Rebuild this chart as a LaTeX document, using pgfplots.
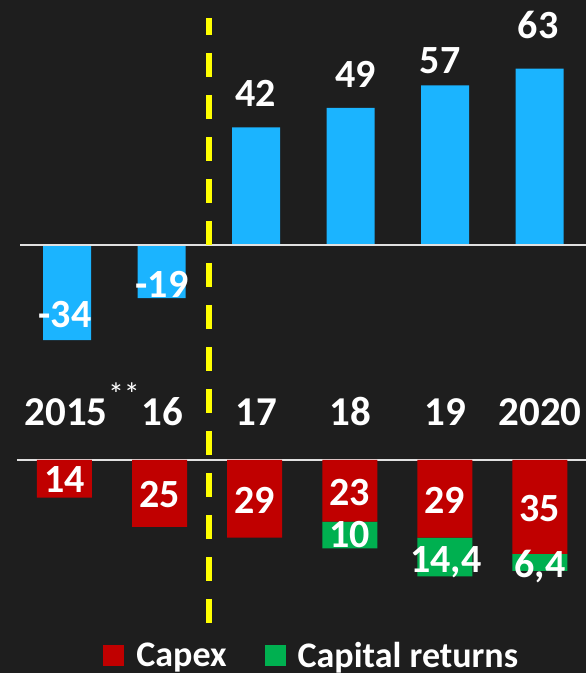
\documentclass[border=0pt]{standalone}
\usepackage{fontspec}
\setmainfont{Carlito}
\usepackage{pgfplots}
\pgfplotsset{compat=1.18}

\definecolor{bg}{RGB}{30,30,30}
\definecolor{barblue}{RGB}{27,180,255}
\definecolor{capex}{RGB}{192,0,0}
\definecolor{capret}{RGB}{0,176,80}
\definecolor{dashy}{RGB}{255,255,0}
\definecolor{zeroline}{RGB}{225,225,225}

\newcommand\vf{\fontsize{40}{40}\selectfont\bfseries}
\newcommand\yf{\fontsize{41}{41}\selectfont\bfseries}

\begin{document}
\begin{tikzpicture}[x=1pt,y=1pt]
\fill[bg] (0,0) rectangle (586,673);
\coordinate (topax) at (0pt,323pt);
\coordinate (botax) at (0pt,73pt);

% upper panel
\begin{axis}[
  at={(topax)}, anchor=south west,
  scale only axis, width=586pt, height=350pt,
  xmin=-0.709, xmax=5.492, ymin=-37.5, ymax=87.5,
  hide axis, clip=false,
  ybar, bar width=48pt,
]
  \addplot[fill=barblue, draw=none] coordinates {(0,-34) (1,-19) (2,42) (3,49) (4,57) (5,63)};
  \draw[zeroline, line width=2pt] (axis cs:-0.497,0) -- (axis cs:5.492,0);
  \coordinate (t1) at (axis cs:-0.02,-29.6);
  \coordinate (t2) at (axis cs:1.005,-18.9);
  \coordinate (t3) at (axis cs:1.995,49.3);
  \coordinate (t4) at (axis cs:3.058,56.4);
  \coordinate (t5) at (axis cs:3.947,61.4);
  \coordinate (t6) at (axis cs:4.984,73.6);
\end{axis}

% lower panel
\begin{axis}[
  at={(botax)}, anchor=south west,
  scale only axis, width=586pt, height=160pt,
  xmin=-0.678, xmax=5.484, ymin=-7.46, ymax=52.24,
  y dir=reverse,
  hide axis, clip=false,
  ybar stacked, bar width=55pt,
  every axis plot post/.append style={
    legend image code/.code={
      \fill[##1] (0pt,-10.5pt) rectangle (21pt,10.5pt);
      \path (31pt,0pt);}},
  legend columns=2,
  legend style={draw=none, fill=none, text=white,
    font=\fontsize{36}{36}\selectfont\bfseries,
    at={(axis description cs:0.532,-0.345)}, anchor=center,
    /tikz/every even column/.append style={column sep=36pt}},
]
  \addplot[fill=capex, draw=none] coordinates {(0,14) (1,25) (2,29) (3,23) (4,29) (5,35)};
  \addplot[fill=capret, draw=none] coordinates {(0,0) (1,0) (2,0) (3,10) (4,14.4) (5,6.4)};
  \legend{Capex, Capital returns}
  \draw[zeroline, line width=2pt] (axis cs:-0.5,0) -- (axis cs:5.484,0);
  \coordinate (b1) at (axis cs:0,12.3);
  \coordinate (b2) at (axis cs:1,17.9);
  \coordinate (b3) at (axis cs:2,19.8);
  \coordinate (b4) at (axis cs:3,16.8);
  \coordinate (b5) at (axis cs:3,32.8);
  \coordinate (b6) at (axis cs:4,19.8);
  \coordinate (b7) at (axis cs:4.01,41.8);
  \coordinate (b8) at (axis cs:5,23.1);
  \coordinate (b9) at (axis cs:5,43.7);
\end{axis}

% value labels
\begin{scope}[every node/.style={text=white, inner sep=0pt, font=\vf, anchor=base}]
  \node at (t1) {-34};
  \node at (t2) {-19};
  \node at (t3) {42};
  \node at (t4) {49};
  \node at (t5) {57};
  \node at (t6) {63};
  \node at (b1) {14};
  \node at (b2) {25};
  \node at (b3) {29};
  \node at (b4) {23};
  \node at (b5) {10};
  \node at (b6) {29};
  \node at (b7) {14,4};
  \node at (b8) {35};
  \node at (b9) {6,4};
\end{scope}

% year labels
\begin{scope}[every node/.style={text=white, inner sep=0pt, font=\yf, anchor=base}]
  \node at (66,247) {2015};
  \node at (162,247) {16};
  \node at (256,247) {17};
  \node at (350,247) {18};
  \node at (445,247) {19};
  \node at (540,247) {2020};
\end{scope}
\node[text=white, inner sep=0pt, font=\fontsize{32}{32}\selectfont] at (124,279) {**};

% forecast divider
\draw[dashy, line width=6pt, dash pattern=on 24pt off 18pt, dash phase=7pt] (209,655) -- (209,50);

\pgfresetboundingbox
\useasboundingbox (0,0) rectangle (586,673);
\end{tikzpicture}
\end{document}
